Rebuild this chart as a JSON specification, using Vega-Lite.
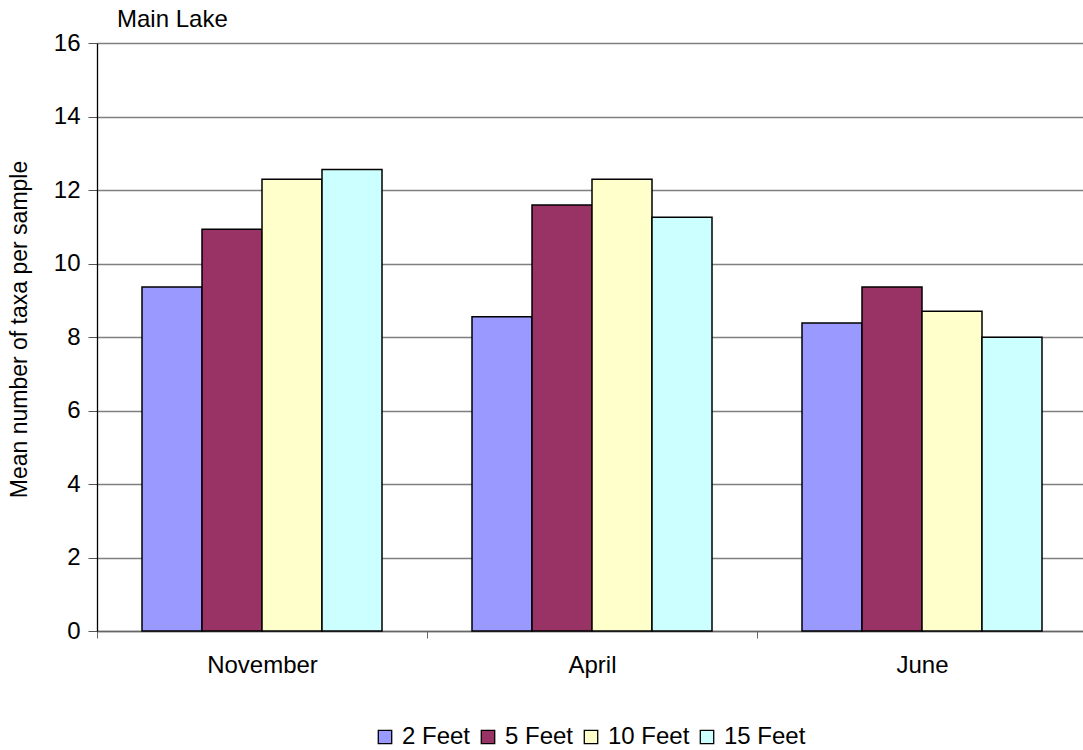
{
  "$schema": "https://vega.github.io/schema/vega-lite/v6.json",
  "autosize": "none",
  "width": 986,
  "height": 588,
  "padding": {"left": 97, "top": 43, "right": 0, "bottom": 119},
  "background": "white",
  "config": {
    "font": "Liberation Sans",
    "view": {"stroke": null},
    "axis": {"labelFont": "Liberation Sans", "titleFont": "Liberation Sans", "labelColor": "black", "titleColor": "black", "titleFontWeight": "normal"},
    "legend": {"labelFont": "Liberation Sans"}
  },
  "title": {
    "text": "Main Lake",
    "anchor": "start",
    "frame": "group",
    "dx": 20,
    "offset": -20,
    "baseline": "alphabetic",
    "fontSize": 24,
    "fontWeight": "normal",
    "font": "Liberation Sans",
    "color": "black"
  },
  "data": {
    "values": [
      {"month": "November", "depth": "2 Feet", "taxa": 9.36},
      {"month": "November", "depth": "5 Feet", "taxa": 10.93},
      {"month": "November", "depth": "10 Feet", "taxa": 12.29},
      {"month": "November", "depth": "15 Feet", "taxa": 12.56},
      {"month": "April", "depth": "2 Feet", "taxa": 8.55},
      {"month": "April", "depth": "5 Feet", "taxa": 11.59},
      {"month": "April", "depth": "10 Feet", "taxa": 12.29},
      {"month": "April", "depth": "15 Feet", "taxa": 11.26},
      {"month": "June", "depth": "2 Feet", "taxa": 8.38},
      {"month": "June", "depth": "5 Feet", "taxa": 9.36},
      {"month": "June", "depth": "10 Feet", "taxa": 8.70},
      {"month": "June", "depth": "15 Feet", "taxa": 7.99}
    ]
  },
  "mark": {"type": "bar", "stroke": "black", "strokeWidth": 1.5},
  "encoding": {
    "x": {
      "field": "month",
      "type": "nominal",
      "sort": ["November", "April", "June"],
      "scale": {"range": [0, 990], "paddingInner": 0, "paddingOuter": 0},
      "axis": {
        "title": null,
        "labelAngle": 0,
        "labelFontSize": 24,
        "labelPadding": 15,
        "tickBand": "extent",
        "tickSize": 7,
        "tickColor": "#666666",
        "domainColor": "#666666",
        "domainWidth": 1.3,
        "grid": false
      }
    },
    "xOffset": {
      "field": "depth",
      "type": "nominal",
      "sort": ["2 Feet", "5 Feet", "10 Feet", "15 Feet"],
      "scale": {"paddingInner": 0, "paddingOuter": 0.75}
    },
    "y": {
      "field": "taxa",
      "type": "quantitative",
      "scale": {"domain": [0, 16], "nice": false},
      "axis": {
        "title": "Mean number of taxa per sample",
        "titleFontSize": 23,
        "titleX": -71,
        "titleY": 286,
        "titleBaseline": "alphabetic",
        "titleAngle": -90,
        "titleAlign": "center",
        "values": [0, 2, 4, 6, 8, 10, 12, 14, 16],
        "labelFontSize": 24,
        "labelPadding": 8,
        "tickSize": 9,
        "tickColor": "#555555",
        "domainColor": "black",
        "domainWidth": 1.3,
        "grid": true,
        "gridColor": "#7f7f7f",
        "gridWidth": 1.3
      }
    },
    "color": {
      "field": "depth",
      "type": "nominal",
      "sort": ["2 Feet", "5 Feet", "10 Feet", "15 Feet"],
      "scale": {
        "domain": ["2 Feet", "5 Feet", "10 Feet", "15 Feet"],
        "range": ["#9999FF", "#993366", "#FFFFCC", "#CCFFFF"]
      },
      "legend": {
        "title": null,
        "orient": "none",
        "direction": "horizontal",
        "legendX": 276,
        "legendY": 682,
        "symbolType": "square",
        "symbolSize": 180,
        "symbolStrokeColor": "black",
        "symbolStrokeWidth": 1.3,
        "symbolOpacity": 1,
        "labelFontSize": 24,
        "labelColor": "black",
        "labelOffset": 5,
        "columnPadding": 5
      }
    }
  }
}
